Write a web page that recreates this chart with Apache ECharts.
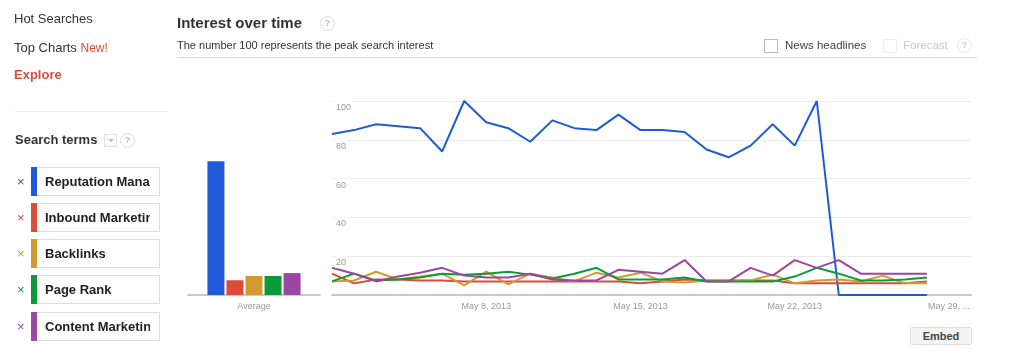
<!DOCTYPE html>
<html>
<head>
<meta charset="utf-8">
<script src="https://cdn.jsdelivr.net/npm/echarts@6/dist/echarts.min.js"></script>
<style>
  html, body { margin:0; padding:0; background:#fff; }
  body { width:1024px; height:360px; overflow:hidden; position:relative; font-family: Arial, "Liberation Sans", sans-serif; }
  #chart { position:absolute; left:0; top:0; width:1024px; height:360px; }
  .t { position:absolute; white-space:nowrap; line-height:1; }
  .q { position:absolute; width:13px; height:13px; border:1px solid #ddd; border-radius:50%; color:#bbb; font-size:9px; text-align:center; line-height:13px; font-weight:bold; background:#fff; }
  .box { position:absolute; left:31px; width:122px; height:27px; border:1px solid #dcdcdc; border-left-width:0; background:#fff; }
  .strip { position:absolute; left:0; top:-1px; width:6px; height:29px; }
  .lbl { position:absolute; left:14px; top:0; width:105px; height:27px; overflow:hidden; font-size:13px; font-weight:bold; color:#222; line-height:28px; white-space:nowrap; }
  .x { position:absolute; left:17px; font-size:13px; line-height:1; }
  .cb { position:absolute; width:12px; height:12px; border:1px solid #bbb; background:#fff; }
</style>
</head>
<body>
<div id="chart"></div>

<div class="t" style="left:14px; top:12px; font-size:13px; color:#333;">Hot Searches</div>
<div class="t" style="left:14px; top:41px; font-size:13px; color:#333;">Top Charts <span style="color:#dd4b39; font-size:12px;">New!</span></div>
<div class="t" style="left:14px; top:68px; font-size:13px; color:#dd4b39; font-weight:bold;">Explore</div>
<div style="position:absolute; left:14px; top:111px; width:154px; height:1px; background:#eee;"></div>
<div class="t" style="left:15px; top:133px; font-size:13px; color:#333; font-weight:bold;">Search terms</div>
<div style="position:absolute; left:104px; top:134px; width:11px; height:11px; border:1px solid #e3e3e3; background:#fafafa;"><div style="position:absolute; left:3px; top:4px; width:0; height:0; border-left:3px solid transparent; border-right:3px solid transparent; border-top:3px solid #bbb;"></div></div>
<div class="q" style="left:120px; top:133px;">?</div>
<div id="terms"></div>

<div class="t" style="left:177px; top:15px; font-size:15px; color:#333; font-weight:bold;">Interest over time</div>
<div class="q" style="left:320px; top:16px;">?</div>
<div class="t" style="left:177px; top:40px; font-size:11px; color:#333;">The number 100 represents the peak search interest</div>
<div style="position:absolute; left:177px; top:57px; width:800px; height:1px; background:#ddd;"></div>
<div class="cb" style="left:764px; top:39px;"></div>
<div class="t" style="left:785px; top:40px; font-size:11.5px; color:#444;">News headlines</div>
<div class="cb" style="left:883px; top:39px; border-color:#eee;"></div>
<div class="t" style="left:903px; top:40px; font-size:11.5px; color:#c8c8c8;">Forecast</div>
<div class="q" style="left:957px; top:38px; color:#ccc; border-color:#e5e5e5;">?</div>

<div style="position:absolute; left:910px; top:327px; width:60px; height:16px; border:1px solid #ddd; background:#f4f4f4; border-radius:2px; font-size:11px; font-weight:bold; color:#444; text-align:center; line-height:16px;">Embed</div>

<script>
// ---- data ----
var terms = ['Reputation Management', 'Inbound Marketing', 'Backlinks', 'Page Rank', 'Content Marketing'];
var colors = ['#1f5ad8', '#dd4a38', '#d39a30', '#0b9b3a', '#9a46a2'];
var dates = ['May 1, 2013','May 2, 2013','May 3, 2013','May 4, 2013','May 5, 2013','May 6, 2013','May 7, 2013',
  'May 8, 2013','May 9, 2013','May 10, 2013','May 11, 2013','May 12, 2013','May 13, 2013','May 14, 2013',
  'May 15, 2013','May 16, 2013','May 17, 2013','May 18, 2013','May 19, 2013','May 20, 2013','May 21, 2013',
  'May 22, 2013','May 23, 2013','May 24, 2013','May 25, 2013','May 26, 2013','May 27, 2013','May 28, 2013',
  'May 29, 2013','May 30, 2013'];
var xTickLabels = {7:'May 8, 2013', 14:'May 15, 2013', 21:'May 22, 2013', 28:'May 29, ...'};
var yTicks = [0, 20, 40, 60, 80, 100];

var reputation = [83,85,88,87,86,74,100,89,86,79,90,86,85,93,85,85,84,75,71,77,88,77,100,0,0,0,0,0];
var inbound    = [11,6,8,8,7.5,7.5,7,7,7,7,7,7,7,7,6,7,8,7.5,7.5,7.5,7.5,6,6,6,6,6,6,7];
var backlinks  = [7,7.5,12,8,9.5,11,5,12,5.5,11,9,7,11.5,9,11.5,7,6.5,7.5,7.5,7.5,10.5,6,7.5,8,7,10,6,6];
var pageRank   = [7,11,7.5,8,9,11,10.5,11,12,10.5,8.5,11,14,8,8,8,9,7,7,7,7,9.5,14,11,7.5,7.5,8,9];
var content    = [14,11,7,9.5,11.5,14,10,9,9,11,8,7.5,7.5,13,12,11,18,7,7,14,10,18,14,18,11,11,11,11];
var averages   = [69, 7.6, 9.8, 9.8, 11.3];

var seriesData = [reputation, inbound, backlinks, pageRank, content];

// ---- legend boxes (HTML) ----
var holder = document.getElementById('terms');
var tops = [167, 203, 239, 275, 312];
terms.forEach(function (name, i) {
  var x = document.createElement('div');
  x.className = 'x';
  x.style.top = (tops[i] + 8) + 'px';
  x.style.color = colors[i];
  x.textContent = '\u00d7';
  holder.appendChild(x);
  var b = document.createElement('div');
  b.className = 'box';
  b.style.top = tops[i] + 'px';
  b.style.paddingLeft = '6px';
  var s = document.createElement('div');
  s.className = 'strip';
  s.style.background = colors[i];
  b.appendChild(s);
  var l = document.createElement('div');
  l.className = 'lbl';
  l.textContent = name;
  b.appendChild(l);
  holder.appendChild(b);
});

// ---- chart ----
var chart = echarts.init(document.getElementById('chart'));
var lineOrder = [1, 2, 3, 4, 0];
var series = [];
lineOrder.forEach(function (i) {
  series.push({
    name: terms[i], type: 'line', xAxisIndex: 0, yAxisIndex: 0,
    data: seriesData[i], showSymbol: false, symbol: 'none',
    lineStyle: { width: 2, color: colors[i] }, itemStyle: { color: colors[i] },
    z: 3 + i
  });
});
averages.forEach(function (v, i) {
  series.push({
    name: terms[i] + ' avg', type: 'bar', xAxisIndex: 1, yAxisIndex: 2,
    data: [v], barWidth: 17, barGap: '12%',
    itemStyle: { color: colors[i] }
  });
});

chart.setOption({
  animation: false,
  textStyle: { fontFamily: 'Arial, "Liberation Sans", sans-serif' },
  grid: [
    { left: 332, top: 101, width: 639, height: 194 },
    { left: 188, top: 101, width: 132, height: 194 }
  ],
  xAxis: [
    {
      gridIndex: 0, type: 'category', data: dates, boundaryGap: false,
      axisTick: { show: false },
      axisLine: { lineStyle: { color: '#c8c8c8', width: 2 } },
      splitLine: { show: false },
      axisLabel: {
        color: '#999', fontSize: 9, margin: 7,
        interval: function (idx) { return xTickLabels.hasOwnProperty(idx); },
        formatter: function (v, idx) { return xTickLabels[idx] || ''; }
      }
    },
    {
      gridIndex: 1, type: 'category', data: ['Average'],
      axisTick: { show: false },
      axisLine: { lineStyle: { color: '#c8c8c8', width: 2 } },
      axisLabel: { color: '#999', fontSize: 9, margin: 7 }
    }
  ],
  yAxis: [
    {
      gridIndex: 0, type: 'value', min: yTicks[0], max: yTicks[yTicks.length - 1], interval: 20,
      axisLine: { show: false }, axisTick: { show: false }, axisLabel: { show: false },
      splitLine: { show: true, showMinLine: false, lineStyle: { color: '#ececec', width: 1 } }
    },
    {
      gridIndex: 0, type: 'value', position: 'left', min: yTicks[0], max: yTicks[yTicks.length - 1], interval: 20,
      axisLine: { show: false }, axisTick: { show: false }, splitLine: { show: false },
      z: 20,
      axisLabel: {
        inside: true, margin: 3, verticalAlign: 'top', align: 'left',
        color: '#999', fontSize: 9, showMinLabel: false,
        backgroundColor: '#fff', padding: [2, 1, 1, 1]
      }
    },
    { gridIndex: 1, type: 'value', min: 0, max: 100, show: false }
  ],
  series: series
});
</script>
</body>
</html>
